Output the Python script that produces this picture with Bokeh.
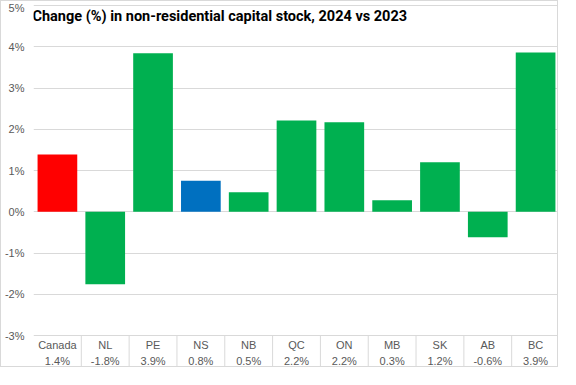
import numpy as np
from bokeh.plotting import figure
from bokeh.models import Range1d, FixedTicker, PrintfTickFormatter, Label, ColumnDataSource
from bokeh.core.properties import value
from bokeh.embed import file_html
from bokeh.resources import INLINE

# ---- data ----
categories = ["Canada", "NL", "PE", "NS", "NB", "QC", "ON", "MB", "SK", "AB", "BC"]
changes = [1.39, -1.76, 3.84, 0.75, 0.47, 2.21, 2.17, 0.28, 1.20, -0.62, 3.86]
value_labels = ["1.4%", "-1.8%", "3.9%", "0.8%", "0.5%", "2.2%", "2.2%", "0.3%", "1.2%", "-0.6%", "3.9%"]
bar_colors = ["#FF0000", "#00B050", "#00B050", "#0070C0", "#00B050", "#00B050",
              "#00B050", "#00B050", "#00B050", "#00B050", "#00B050"]
y_ticks = [-3, -2, -1, 0, 1, 2, 3, 4, 5]
title_text = "Change (%) in non-residential  capital stock, 2024 vs 2023"

n = len(categories)
centers = np.arange(n) + 0.5

Y_TOP = 5.097
Y_BOTTOM = -3.80
ROW1 = -3.242
ROW2 = -3.63

p = figure(width=558, height=367, output_backend="svg", toolbar_location=None,
           x_range=Range1d(0, n), y_range=Range1d(Y_BOTTOM, Y_TOP),
           x_axis_location=None, min_border_left=23, min_border_right=0,
           min_border_top=0, min_border_bottom=0,
           styles={"border": "1px solid #d9d9d9"})
p.outline_line_color = None
p.background_fill_color = "white"
p.border_fill_color = "white"

# grid
p.xgrid.visible = False
p.ygrid.ticker = FixedTicker(ticks=y_ticks)
p.ygrid.grid_line_color = "#d9d9d9"
p.ygrid.grid_line_width = 1

# y axis
ya = p.yaxis[0]
ya.ticker = FixedTicker(ticks=y_ticks)
ya.formatter = PrintfTickFormatter(format="%d%%")
ya.axis_line_color = None
ya.major_tick_line_color = None
ya.minor_tick_line_color = None
ya.major_label_standoff = 3
ya.major_label_text_font = "Liberation Sans"
ya.major_label_text_font_size = "11px"
ya.major_label_text_color = "#595959"

# bars
src = ColumnDataSource(dict(x=centers, top=changes, color=bar_colors,
                            cat=categories, lab=value_labels))
p.vbar(x="x", top="top", bottom=0, width=0.83, fill_color="color",
       line_color=None, source=src)

# category table
p.segment(x0=np.arange(1, n), y0=-3, x1=np.arange(1, n), y1=Y_BOTTOM,
          line_color="#d9d9d9", line_width=1)
p.text(x="x", y=ROW1, text="cat", source=src, text_align="center",
       text_baseline="middle", text_font=value("Liberation Sans"),
       text_font_size="11px", text_color="#595959")
p.text(x="x", y=ROW2, text="lab", source=src, text_align="center",
       text_baseline="middle", text_font=value("Liberation Sans"),
       text_font_size="11px", text_color="#595959")

# title
p.add_layout(Label(x=0, y=4.745, text=title_text, text_align="left",
                   text_baseline="middle", x_offset=-1,
                   text_font="Roboto", text_font_style="bold",
                   text_font_size="14.5px", text_color="#000000"))

open("out.html", "w").write(file_html(p, INLINE))
